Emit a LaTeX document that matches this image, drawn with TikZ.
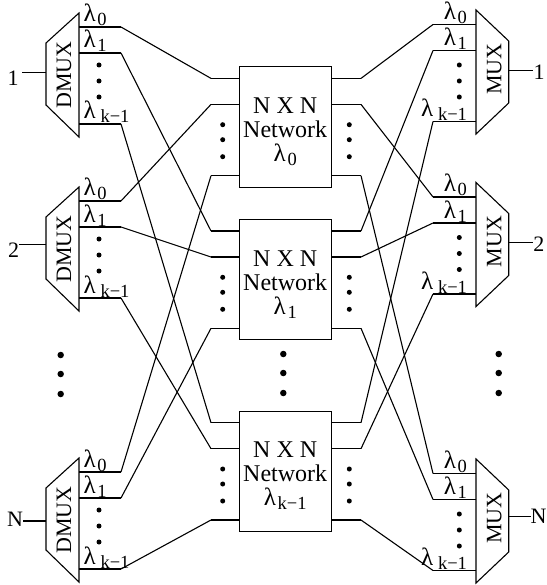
\documentclass[tikz,border=0pt]{standalone}
\usepackage{fontspec}
\setmainfont{Liberation Serif}
% lambda with a lowered subscript
\newcommand{\lam}[1]{{\fontsize{25}{25}\selectfont λ}\kern1.8pt\raisebox{-4pt}{\fontsize{18.5}{18.5}\selectfont #1}}
\begin{document}
\begin{tikzpicture}[x=1pt,y=-1pt,line width=1.1pt,
  lab/.style={font=\fontsize{22}{25}\selectfont,inner sep=0pt},
  dot/.style={circle,fill,inner sep=0pt,minimum size=5pt},
  bigdot/.style={circle,fill,inner sep=0pt,minimum size=6.5pt},
  netbox/.style={draw,rectangle,minimum width=91.7pt,minimum height=120.5pt,inner sep=0pt},
  nettext/.style={font=\fontsize{24}{25}\selectfont,inner sep=0pt,align=center}]
\useasboundingbox (0,0) rectangle (546,585);

% ---------- demultiplexers (left) ----------
\foreach \T/\n/\iy/\lx/\ly/\sx [count=\i] in
  {13/1/72.3/13/78.3/22, 187/2/244.3/13.7/250.5/19, 458/N/521/15/519.2/23} {
  \draw (79,\T) -- (79,\T+124) -- (46,\T+92) -- (46,\T+30) -- cycle;
  \node[lab,rotate=90] (dname\i) at (64,\T+62) {DMUX};
  \node[lab] (dlab\i) at (\lx,\ly) {\n};
  \coordinate (dinA\i) at (\sx,\iy);
  \coordinate (dinB\i) at (46,\iy);
  \draw (dinA\i) -- (dinB\i);
  \foreach \j/\s/\o in {1/0/14, 2/1/40, 3/{\,k−1}/111} {
    \coordinate (dedge-\i-\j) at (79,\T+\o);
    \coordinate (dout-\i-\j) at (121,\T+\o);
    \draw (dedge-\i-\j) -- (dout-\i-\j);
    \node[lab,anchor=base west] (dl-\i-\j) at (83,\T+\o-5) {\lam{\s}};
  }
  \foreach \d [count=\m] in {52,68,84}
    \node[dot] (ddot-\i-\m) at (99,\T+\d) {};
}

% ---------- multiplexers (right) ----------
\foreach \T/\n/\oy/\lx/\ly/\ex [count=\i] in
  {10/1/70.7/539/72.5/532.7, 182.5/2/242.7/538.8/244.7/532.7, 459/N/516.7/538.5/516/531} {
  \draw (476,\T) -- (476,\T+124) -- (508.7,\T+93) -- (508.7,\T+31) -- cycle;
  \node[lab,rotate=90] (mname\i) at (494.3,\T+59) {MUX};
  \node[lab] (mlab\i) at (\lx,\ly) {\n};
  \coordinate (moutA\i) at (508.7,\oy);
  \coordinate (moutB\i) at (\ex,\oy);
  \draw (moutA\i) -- (moutB\i);
  \foreach \j/\s/\o in {1/0/14.5, 2/1/40.5, 3/{\,k−1}/111.5} {
    \coordinate (medge-\i-\j) at (476,\T+\o);
    \coordinate (min-\i-\j) at (433,\T+\o);
    \draw (min-\i-\j) -- (medge-\i-\j);
    \node[lab,anchor=base east] (ml-\i-\j) at (467.5,\T+\o-5) {\lam{\s}};
  }
  \foreach \d [count=\m] in {55,71,87}
    \node[dot] (mdot-\i-\m) at (459.3,\T+\d) {};
}

% ---------- N x N networks ----------
\foreach \T/\s [count=\j] in {66.7/0, 219.3/1, 411/{k−1}} {
  \node[netbox] (net\j) at (285.2,\T+60.3) {};
  \node[nettext] (nt\j) at (285.2,\T+65) {N X N\\[-1pt]Network\\[-1pt]\lam{\s}};
  \foreach \i/\o in {1/11.7, 2/37.7, 3/109} {
    \coordinate (nin-\j-\i) at (211,\T+\o);
    \coordinate (nout-\j-\i) at (361,\T+\o);
    \draw (nin-\j-\i) -- (net\j.west |- nin-\j-\i);
    \draw (net\j.east |- nout-\j-\i) -- (nout-\j-\i);
  }
  \foreach \d [count=\m] in {58,73,90} {
    \node[dot] (nld-\j-\m) at (222.7,\T+\d) {};
    \node[dot] (nrd-\j-\m) at (349.3,\T+\d) {};
  }
}

% ---------- wavelength routing ----------
\foreach \i in {1,2,3}
  \foreach \j in {1,2,3} {
    \draw (dout-\i-\j) -- (nin-\j-\i);
    \draw (nout-\j-\i) -- (min-\i-\j);
  }

% ---------- vertical ellipses ----------
\foreach \y [count=\m] in {355,374,394} {
  \node[bigdot] (ld\m) at (60.7,\y) {};
  \node[bigdot] (cd\m) at (283.3,\y-1) {};
  \node[bigdot] (rd\m) at (498.7,\y-1) {};
}
\end{tikzpicture}
\end{document}
